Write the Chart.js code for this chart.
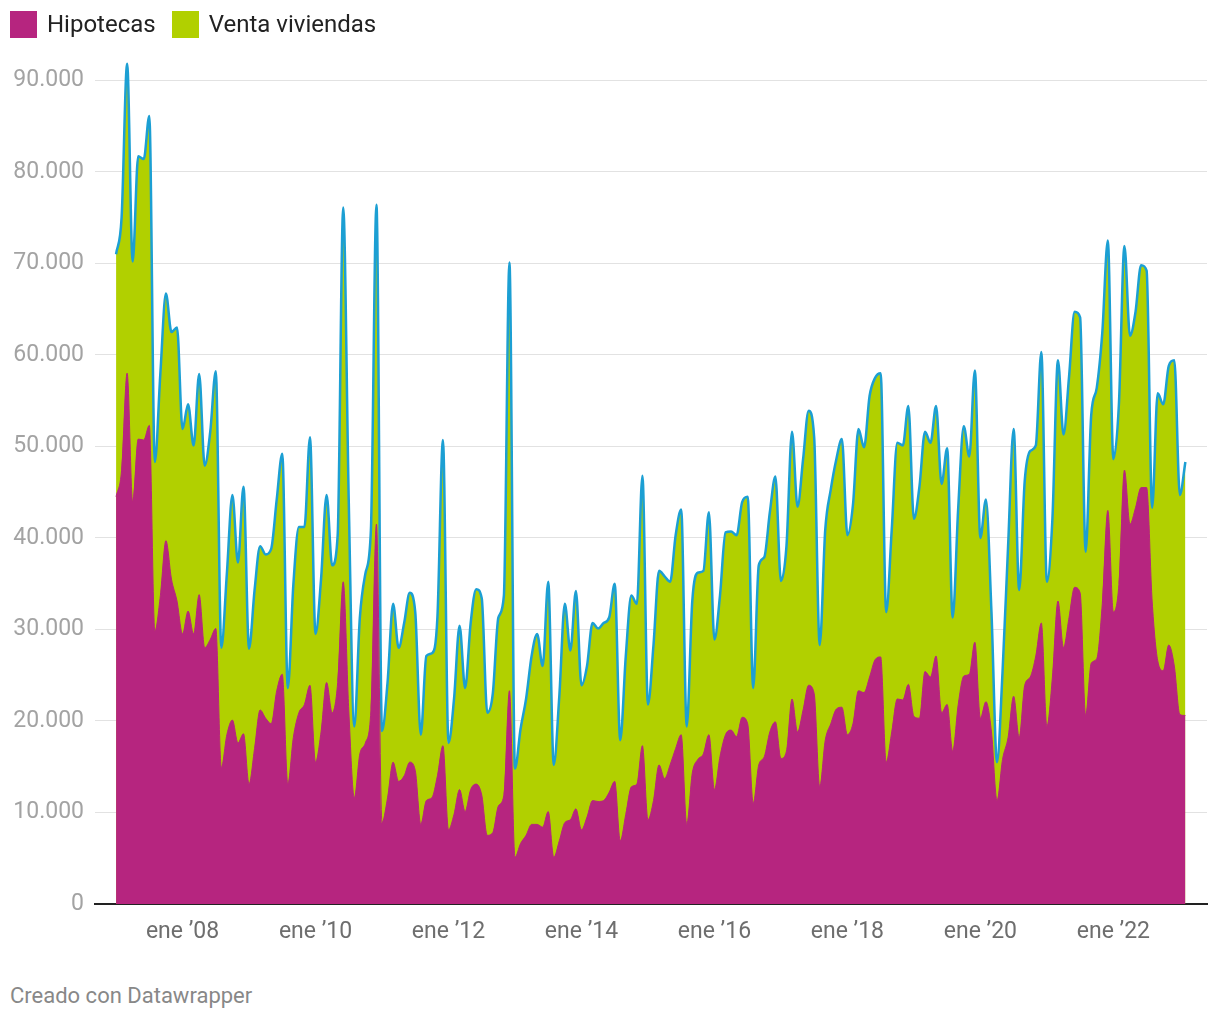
<!DOCTYPE html>
<html lang="es">
<head>
<meta charset="utf-8">
<script src="https://cdn.jsdelivr.net/npm/chart.js@4/dist/chart.umd.min.js"></script>
<style>
    body { margin: 0; background: #fff; font-family: Roboto, "Noto Sans", sans-serif; }
    #wrap { position: relative; width: 1220px; height: 1020px; }
    #legend { position: absolute; left: 10px; top: 10px; display: flex; align-items: center; font-size: 24px; color: #222; }
    .item { display: flex; align-items: center; margin-right: 16px; }
    .box { width: 27px; height: 27px; margin-right: 10px; }
    #chartBox { position: absolute; left: 0; top: 0; width: 1220px; height: 960px; }
    #footer { position: absolute; left: 10px; top: 983px; font-size: 22px; color: #888; }
</style>
</head>
<body>
<div id="wrap">
    <div id="chartBox"><canvas id="hipotecasChart"></canvas></div>
    <div id="legend"></div>
    <div id="footer">Creado con Datawrapper</div>
</div>
<script>
/* ---- datos: meses desde ene 2007 (índice 0) hasta feb 2023 ---- */

const HIPOTECAS = [
    44500, 47400, 58000, 43900, 50800, 50700, 52300, 29800, 33700, 39700, 35500, 33100,
    29500, 32000, 29500, 33800, 28000, 28900, 30100, 14900, 18500, 20100, 17600, 18600,
    13100, 17000, 21200, 20300, 19700, 23300, 25100, 13100, 18200, 20900, 21800, 23900,
    15500, 18800, 24200, 20900, 24200, 35200, 21200, 11600, 16400, 17600, 21200, 41500,
    8900, 11600, 15500, 13400, 14000, 15500, 14600, 8700, 11300, 11600, 14000, 17300,
    8100, 9800, 12500, 10100, 12500, 13100, 11900, 7500, 7800, 10700, 11900, 23300,
    5100, 6600, 7500, 8700, 8700, 8400, 10100, 5100, 6900, 8900, 9200, 10400,
    8100, 9500, 11300, 11200, 11300, 12200, 13400, 6900, 9800, 12800, 13100, 17300,
    9200, 11300, 15200, 13700, 15200, 17000, 18500, 8700, 14300, 15800, 16400, 18500,
    12500, 16100, 18500, 19000, 18300, 20400, 19700, 11000, 15200, 16100, 18800, 19900,
    15900, 16700, 22400, 18800, 21200, 23900, 23000, 12800, 17900, 19700, 21300, 21500,
    18500, 19700, 23300, 23100, 24800, 26700, 27000, 15500, 18800, 22400, 22300, 24000,
    20500, 20300, 25400, 24800, 27100, 20900, 21800, 16700, 21800, 24900, 25100, 28600,
    20300, 22100, 18800, 11300, 15800, 18200, 22700, 18200, 23900, 24800, 27100, 30700,
    19400, 24800, 33100, 28000, 31300, 34600, 34000, 20600, 26300, 26800, 32800, 43000,
    31900, 34900, 47400, 41500, 43300, 45500, 45500, 33100, 26600, 25500, 28300, 26000,
    20700, 20600
];

const VENTAS = [
    71000, 75000, 91800, 70200, 81700, 81400, 86100, 48300, 58000, 66700, 62500, 63000,
    51900, 54600, 50100, 57900, 47900, 51600, 58200, 28000, 36100, 44700, 37300, 45600,
    27900, 34300, 39100, 38200, 38800, 44200, 49200, 23600, 34900, 41200, 41200, 51000,
    29500, 35500, 44700, 37000, 40300, 76100, 44000, 19400, 31300, 36100, 40900, 76400,
    18900, 24200, 32800, 28000, 30700, 34000, 31900, 18500, 27100, 27400, 31300, 50700,
    17600, 22400, 30400, 23600, 30700, 34400, 33400, 20900, 23000, 31300, 33700, 70100,
    14800, 19100, 22400, 27100, 29500, 26000, 35200, 15200, 22700, 32800, 27700, 34200,
    23900, 26000, 30700, 30100, 30700, 31300, 35000, 17900, 27100, 33700, 32800, 46800,
    21800, 28300, 36400, 35800, 35200, 40300, 43100, 19400, 33100, 36200, 36400, 42800,
    28900, 33700, 40600, 40700, 40300, 43900, 44500, 23600, 37000, 37900, 42800, 46700,
    35300, 39100, 51600, 43400, 48600, 53900, 51000, 28300, 40900, 45300, 48600, 50800,
    40300, 43600, 51900, 49900, 55500, 57500, 58000, 31900, 40900, 50400, 50100, 54400,
    42100, 45600, 51600, 50400, 54400, 45900, 49800, 31300, 43300, 52200, 48900, 58300,
    40000, 44200, 31900, 15500, 25400, 39100, 51900, 34300, 46200, 49500, 50100, 60300,
    35200, 42100, 59400, 51300, 57600, 64700, 64100, 38500, 53400, 56400, 62400, 72500,
    48600, 54600, 71900, 62100, 64700, 69800, 69200, 43300, 55800, 54600, 58800, 59400,
    44700, 48300
];

const X_TICKS = [12, 36, 60, 84, 108, 132, 156, 180];
const X_TICK_LABELS = ["ene \u201908", "ene \u201910", "ene \u201912", "ene \u201914",
                       "ene \u201916", "ene \u201918", "ene \u201920", "ene \u201922"];
const Y_TICKS = [0, 10000, 20000, 30000, 40000, 50000, 60000, 70000, 80000, 90000];

const SERIES = [
    { label: "Hipotecas", data: HIPOTECAS, color: "#b6257f" },
    { label: "Venta viviendas", data: VENTAS, color: "#b1d000" }
];

/* ---- leyenda ---- */

const legend = document.getElementById("legend");
SERIES.forEach(s => {
    const item = document.createElement("div");
    item.className = "item";
    item.innerHTML = `<div class="box" style="background:${s.color}"></div><span>${s.label}</span>`;
    legend.appendChild(item);
});

/* ---- gráfico ---- */

const toPoints = arr => arr.map((v, i) => ({ x: i, y: v }));

new Chart(document.getElementById("hipotecasChart"), {
    type: "line",
    data: {
        datasets: [
            {
                label: SERIES[0].label,
                data: toPoints(HIPOTECAS),
                borderColor: SERIES[0].color,
                backgroundColor: SERIES[0].color,
                borderWidth: 1,
                fill: "origin"
            },
            {
                label: SERIES[1].label,
                data: toPoints(VENTAS),
                borderColor: "#1c9fd3",
                backgroundColor: SERIES[1].color,
                borderWidth: 2.5,
                fill: "origin"
            }
        ]
    },
    options: {
        responsive: true,
        maintainAspectRatio: false,
        animation: false,
        layout: { padding: { top: 62, right: 13, left: 0, bottom: 0 } },
        elements: {
            point: { radius: 0 },
            line: { cubicInterpolationMode: "monotone" }
        },
        plugins: {
            legend: { display: false },
            tooltip: { enabled: false }
        },
        scales: {
            x: {
                type: "linear",
                min: -3.8,
                max: 196.9,
                z: 1,
                grid: { display: false, drawTicks: false },
                border: { display: true, color: "#222", width: 2 },
                afterBuildTicks: scale => {
                    scale.ticks = X_TICKS.map(v => ({ value: v }));
                },
                afterFit: scale => { scale.height = 56; },
                ticks: {
                    padding: 14,
                    maxRotation: 0,
                    autoSkip: false,
                    color: "#6e6e6e",
                    font: { family: "Roboto", size: 23 },
                    callback: v => X_TICK_LABELS[X_TICKS.indexOf(v)]
                }
            },
            y: {
                min: 0,
                max: 92000,
                grid: { color: "#e2e2e2", lineWidth: 1, drawTicks: false },
                border: { display: false },
                afterBuildTicks: scale => {
                    scale.ticks = Y_TICKS.map(v => ({ value: v }));
                },
                afterFit: scale => { scale.width = 95; },
                ticks: {
                    padding: 11,
                    color: "#a3a3a3",
                    font: { family: "Roboto", size: 23 },
                    callback: v => v.toLocaleString("de-DE")
                }
            }
        }
    }
});
</script>
</body>
</html>
